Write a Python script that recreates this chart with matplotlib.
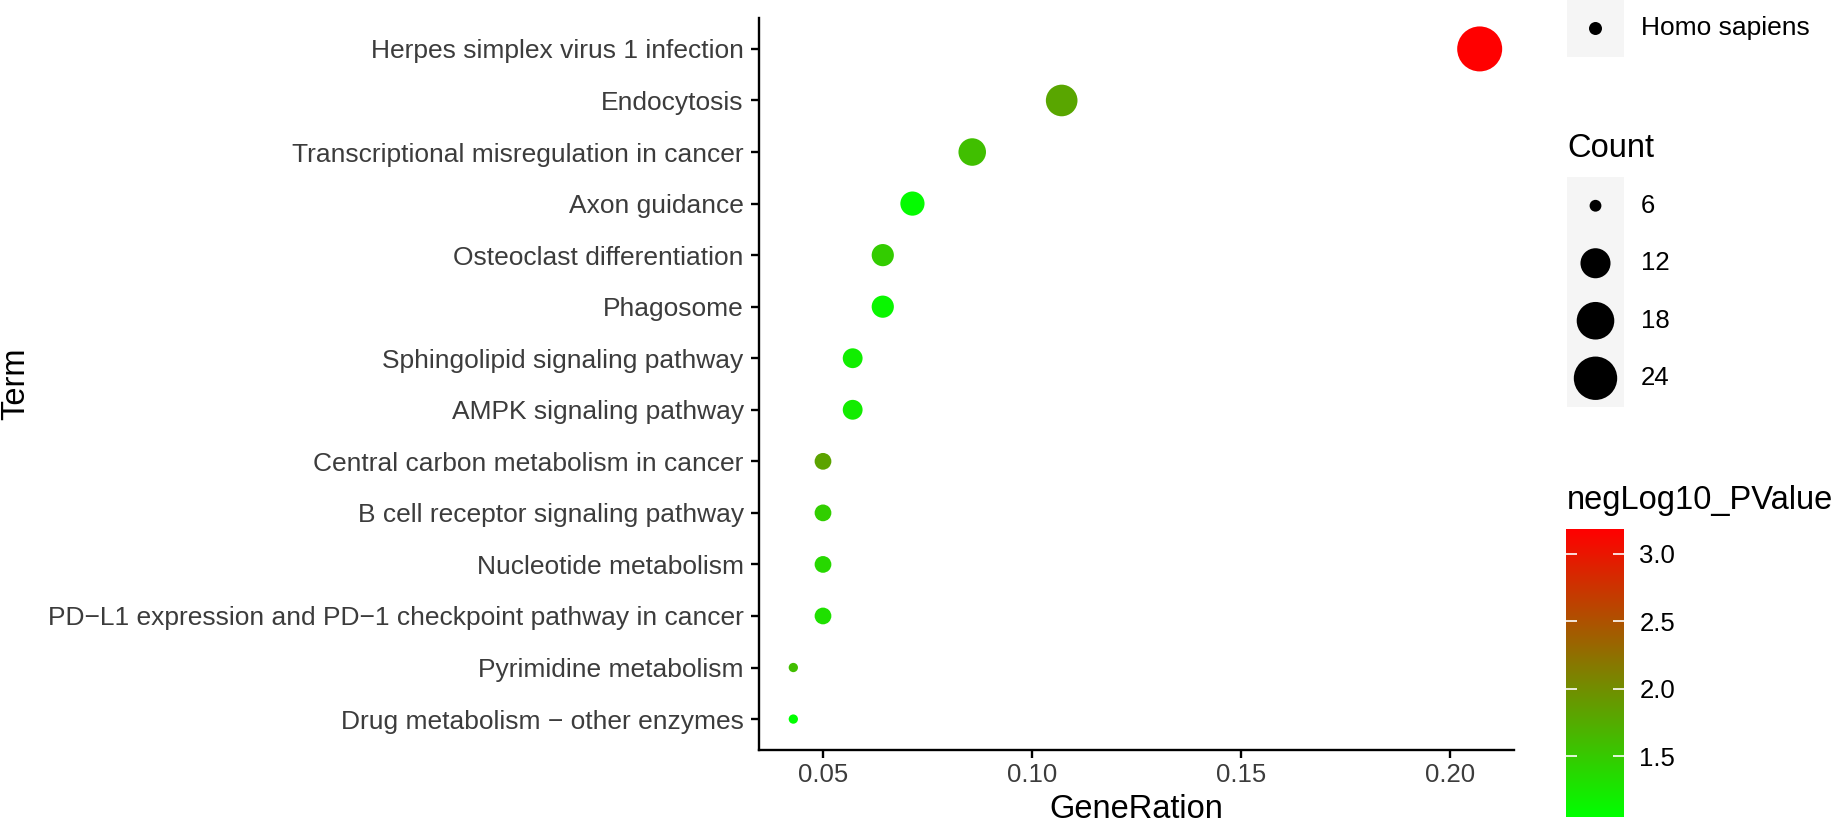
import numpy as np
import matplotlib
matplotlib.use("Agg")
import matplotlib.pyplot as plt
from matplotlib.colors import LinearSegmentedColormap, Normalize
from matplotlib.cm import ScalarMappable

plt.rcParams["font.family"] = ["Liberation Sans", "DejaVu Sans"]

# KEGG terms, top to bottom as drawn
terms = [
    "Herpes simplex virus 1 infection",
    "Endocytosis",
    "Transcriptional misregulation in cancer",
    "Axon guidance",
    "Osteoclast differentiation",
    "Phagosome",
    "Sphingolipid signaling pathway",
    "AMPK signaling pathway",
    "Central carbon metabolism in cancer",
    "B cell receptor signaling pathway",
    "Nucleotide metabolism",
    "PD\u2212L1 expression and PD\u22121 checkpoint pathway in cancer",
    "Pyrimidine metabolism",
    "Drug metabolism \u2212 other enzymes",
]
gene_ratio = [0.2071, 0.1071, 0.0857, 0.0714, 0.0643, 0.0643, 0.0571,
              0.0571, 0.0500, 0.0500, 0.0500, 0.0500, 0.0429, 0.0429]
counts = [29, 15, 12, 10, 9, 9, 8, 8, 7, 7, 7, 7, 6, 6]
neglog10_p = [3.185, 1.80, 1.59, 1.09, 1.48, 1.13, 1.20,
              1.21, 1.82, 1.46, 1.38, 1.31, 1.60, 1.05]

size_breaks = [6, 12, 18, 24]
color_breaks = [1.5, 2.0, 2.5, 3.0]

W, H = 1838, 826
fig = plt.figure(figsize=(W / 100, H / 100), dpi=100)


def fx(px):
    return px / W


def fy(py):
    return 1 - py / H


# size scale: diameter (px) grows with sqrt of rescaled count
cmin, cmax = min(counts), max(counts)
dmin, dmax = 9.3, 45.0


def marker_area(c):
    c = np.asarray(c, dtype=float)
    d = dmin + (dmax - dmin) * np.sqrt((c - cmin) / (cmax - cmin))
    return (d * 0.72) ** 2


cmap = LinearSegmentedColormap.from_list("gr", ["#00ff00", "#ff0000"])
norm = Normalize(vmin=min(neglog10_p), vmax=max(neglog10_p))

# main panel
left, right, top, bottom = 759, 1514, 18, 750
ax = fig.add_axes([fx(left), fy(bottom), fx(right - left), (bottom - top) / H])
ypos = np.arange(len(terms))
ax.scatter(gene_ratio, ypos, s=marker_area(counts), c=neglog10_p,
           cmap=cmap, norm=norm, edgecolors="none", zorder=3)

xr = max(gene_ratio) - min(gene_ratio)
ax.set_xlim(min(gene_ratio) - 0.05 * xr, max(gene_ratio) + 0.05 * xr)
ax.set_ylim(len(terms) - 1 + 0.6, -0.6)
ax.set_yticks(ypos)
ax.set_yticklabels(terms)
ax.set_xticks([0.05, 0.10, 0.15, 0.20])
ax.set_xticklabels(["0.05", "0.10", "0.15", "0.20"])

for s in ["top", "right"]:
    ax.spines[s].set_visible(False)
for s in ["left", "bottom"]:
    ax.spines[s].set_linewidth(1.7)
ax.tick_params(axis="both", length=6, width=1.7, colors="black",
               labelcolor="#3c3c3c")
ax.tick_params(axis="y", labelsize=19, pad=5)
ax.tick_params(axis="x", labelsize=18.5, pad=3)

fig.text(fx((left + right) / 2), fy(818), "GeneRation", ha="center",
         va="baseline", fontsize=23.5)
fig.text(fx(0), fy((top + bottom) / 2), "Term", rotation=90, ha="left",
         va="center", fontsize=23.5)

# species legend
hax = fig.add_axes([fx(1567), fy(57), fx(57), 57 / H])
hax.set_facecolor("#f5f5f5")
hax.scatter([0], [0], s=(13 * 0.72) ** 2, c="black", edgecolors="none")
hax.set_xlim(-1, 1)
hax.set_ylim(-1, 1)
for sp in hax.spines.values():
    sp.set_visible(False)
hax.set_xticks([])
hax.set_yticks([])
fig.text(fx(1641), fy(28), "Homo sapiens", ha="left", va="center",
         fontsize=19)

# Count legend
fig.text(fx(1567), fy(157), "Count", ha="left", va="baseline", fontsize=23.5)
kax = fig.add_axes([fx(1567), fy(407), fx(57), 230 / H])
kax.set_facecolor("#f5f5f5")
ky = np.arange(len(size_breaks))
kax.scatter(np.zeros(len(size_breaks)), ky, s=marker_area(size_breaks),
            c="black", edgecolors="black", linewidths=1.8)
kax.set_xlim(-1, 1)
kax.set_ylim(len(size_breaks) - 0.5, -0.5)
for sp in kax.spines.values():
    sp.set_visible(False)
kax.set_xticks([])
kax.set_yticks([])
for yk, lab in zip(ky, size_breaks):
    kax.annotate(str(lab), (1, yk), xycoords=("axes fraction", "data"),
                 xytext=(12, 0), textcoords="offset points", ha="left",
                 va="center", fontsize=18.5)

# colour bar
fig.text(fx(1567), fy(509), "negLog10_PValue", ha="left", va="baseline",
         fontsize=23.5)
cax = fig.add_axes([fx(1566), fy(817), fx(58), 288 / H])
cb = fig.colorbar(ScalarMappable(norm=norm, cmap=cmap), cax=cax)
cb.outline.set_visible(False)
cb.set_ticks(color_breaks)
cb.set_ticklabels(["1.5", "2.0", "2.5", "3.0"])
cax.minorticks_off()
cax.tick_params(axis="y", which="major", left=True, right=True,
                direction="in", length=8, width=1.2, color="white",
                labelcolor="black", labelsize=18.5, pad=11)

fig.savefig("out.png", dpi=100)
